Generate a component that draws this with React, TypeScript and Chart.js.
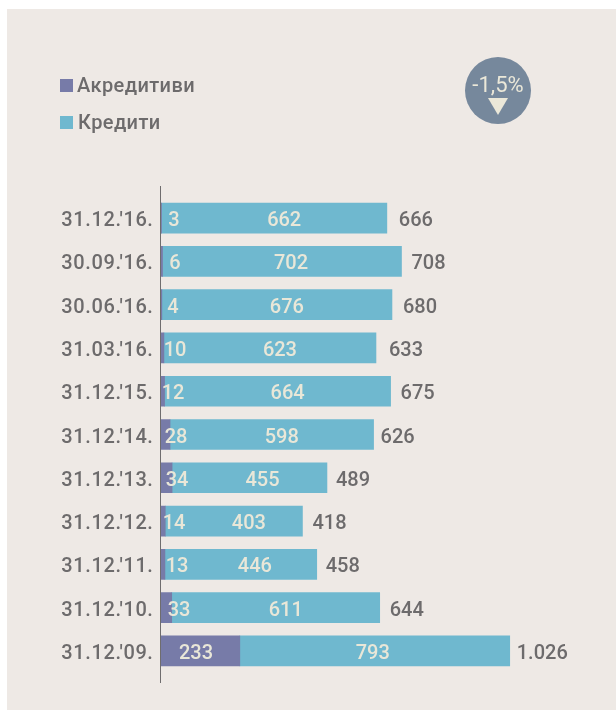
import React, { useEffect, useRef } from "react";
import { Chart, registerables } from "chart.js";

Chart.register(...registerables);

const FONT = "Roboto";
const categories = ["31.12.'16.", "30.09.'16.", "30.06.'16.", "31.03.'16.", "31.12.'15.", "31.12.'14.", "31.12.'13.", "31.12.'12.", "31.12.'11.", "31.12.'10.", "31.12.'09."];
const accreditives = [3, 6, 4, 10, 12, 28, 34, 14, 13, 33, 233];
const credits = [662, 702, 676, 623, 664, 598, 455, 403, 446, 611, 793];
const totalLabels = ["666", "708", "680", "633", "675", "626", "489", "418", "458", "644", "1.026"];
const seriesNames = ["Акредитиви", "Кредити"];
const badgeText = "-1,5%";

// label nudges (px), kept apart from the data
const accLabelX = [174, 175, 173, 175, 173, 176, 177, 174, 177, 179, 196];
const credLabelShift = [10, 9, 10, 10, 10, 10, 13, 15, 14, 10, -2];
const totalGap = [12, 10, 11, 13, 10, 7, 9, 10, 9, 10, 7];

const overlay = {
  id: "overlay",
  beforeDraw(chart: any) {
    chart.ctx.letterSpacing = "0.6px";
  },
  afterDatasetsDraw(chart: any) {
    const { ctx, chartArea, scales } = chart;
    const x = scales.x;
    const y = scales.y;
    ctx.save();
    ctx.letterSpacing = "0px";
    // axis line
    ctx.strokeStyle = "#6f6d6e";
    ctx.lineWidth = 1;
    ctx.beginPath();
    ctx.moveTo(160.5, chartArea.top - 10.5);
    ctx.lineTo(160.5, chartArea.bottom + 10.5);
    ctx.stroke();

    ctx.textBaseline = "middle";
    ctx.font = `500 20px ${FONT}`;
    categories.forEach((_, i) => {
      const cy = y.getPixelForValue(i) + 3;
      const acc = accreditives[i];
      const cred = credits[i];
      const start = x.getPixelForValue(acc);
      const end = x.getPixelForValue(acc + cred);
      ctx.textAlign = "center";
      ctx.fillStyle = "#e9e7d8";
      ctx.fillText(String(acc), accLabelX[i], cy);
      ctx.fillText(String(cred), (start + end) / 2 + credLabelShift[i], cy);
      ctx.textAlign = "left";
      ctx.fillStyle = "#6d6b6c";
      ctx.fillText(totalLabels[i], end + totalGap[i], cy);
    });

    // legend
    const swatches = chart.data.datasets.map((d: any) => d.backgroundColor);
    ctx.textAlign = "left";
    ctx.font = `500 20px ${FONT}`;
    ctx.letterSpacing = "0.4px";
    seriesNames.forEach((name, i) => {
      const top = 79 + i * 37;
      ctx.fillStyle = swatches[i];
      ctx.fillRect(60, top, 13, 13);
      ctx.fillStyle = "#6d6b6c";
      ctx.fillText(name, i === 0 ? 77 : 78, top + 8);
    });
    ctx.letterSpacing = "0px";

    // badge
    ctx.fillStyle = "#76889c";
    ctx.beginPath();
    ctx.ellipse(498, 90.5, 33, 33.5, 0, 0, Math.PI * 2);
    ctx.fill();
    ctx.fillStyle = "#ebe8d9";
    ctx.font = `22px ${FONT}`;
    ctx.textAlign = "center";
    ctx.fillText(badgeText, 498, 86);
    ctx.beginPath();
    ctx.moveTo(488, 98);
    ctx.lineTo(508, 98);
    ctx.lineTo(498, 115);
    ctx.closePath();
    ctx.fill();
    ctx.restore();
  },
};

export default function App() {
  const ref = useRef<HTMLCanvasElement>(null);
  useEffect(() => {
    const chart = new Chart(ref.current!, {
      type: "bar",
      data: {
        labels: categories,
        datasets: [
          { label: seriesNames[0], data: accreditives, backgroundColor: "#777ba8", barThickness: 30, borderWidth: 0 },
          { label: seriesNames[1], data: credits, backgroundColor: "#6fb8cf", barThickness: 30, borderWidth: 0 },
        ],
      },
      options: {
        indexAxis: "y",
        animation: false,
        responsive: false,
        layout: { padding: { top: 196.5, bottom: 37.5, left: 0, right: 13 } },
        plugins: { legend: { display: false }, tooltip: { enabled: false } },
        scales: {
          x: { stacked: true, display: false, min: 0, max: 1300 },
          y: {
            stacked: true,
            afterFit(scale: any) { scale.width = 160.5; },
            border: { display: false },
            grid: { display: false, drawTicks: false },
            ticks: { color: "#6d6b6c", font: { family: FONT, size: 20, weight: "500" }, padding: 7, autoSkip: false, labelOffset: 3 },
          },
        },
      },
      plugins: [overlay],
    } as any);
    return () => chart.destroy();
  }, []);
  return (
    <div style={{ position: "absolute", left: 0, top: 0, width: 616, height: 710, overflow: "hidden", background: "#fff" }}>
      <div style={{ position: "absolute", left: 7, top: 9, width: 609, height: 701, background: "#eee9e5" }} />
      <canvas ref={ref} width={616} height={710} style={{ position: "absolute", left: 0, top: 0 }} />
    </div>
  );
}
